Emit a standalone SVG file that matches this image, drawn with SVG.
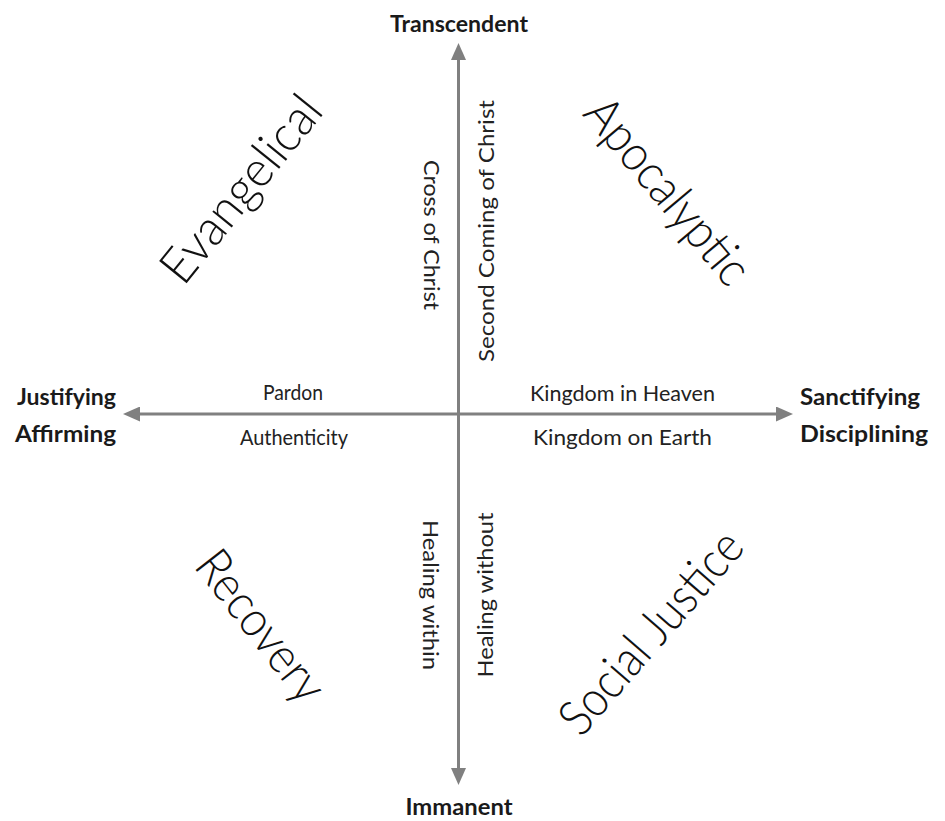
<svg xmlns="http://www.w3.org/2000/svg" width="945" height="821" viewBox="0 0 945 821">
  <defs>
    <style>
      .axis { stroke: #808080; stroke-width: 3; fill: none; }
      .pole { font-family: Lato, "Open Sans", sans-serif; font-weight: 700; font-size: 23px; fill: #1a1a1a; }
      .lbl { font-family: Lato, "Open Sans", sans-serif; font-weight: 400; font-size: 22px; fill: #222; }
      .quad { font-family: Lato, "Open Sans", sans-serif; font-weight: 300; font-size: 50px; fill: #111; }
    </style>
    <marker id="arrow" markerUnits="userSpaceOnUse" viewBox="0 0 17 15" markerWidth="17" markerHeight="15" refX="2" refY="7.5" orient="auto">
      <path d="M0,0 L17,7.5 L0,15 Z" fill="#808080"/>
    </marker>
  </defs>
  <rect width="945" height="821" fill="#ffffff"/>

  <g id="connectors">
    <line class="axis" x1="458.5" y1="414" x2="458.5" y2="58" marker-end="url(#arrow)"/>
    <line class="axis" x1="458.5" y1="414" x2="458.5" y2="770" marker-end="url(#arrow)"/>
    <line class="axis" x1="458.5" y1="414" x2="138" y2="414" marker-end="url(#arrow)"/>
    <line class="axis" x1="458.5" y1="414" x2="778" y2="414" marker-end="url(#arrow)"/>
  </g>

  <g id="transcendent">
    <text class="pole" x="459" y="32" text-anchor="middle" textLength="138" lengthAdjust="spacingAndGlyphs">Transcendent</text>
  </g>
  <g id="immanent">
    <text class="pole" x="459" y="815" text-anchor="middle" textLength="107" lengthAdjust="spacingAndGlyphs">Immanent</text>
  </g>
  <g id="justifying-affirming">
    <text class="pole" x="116" y="405" text-anchor="end" textLength="99" lengthAdjust="spacingAndGlyphs">Justifying</text>
    <text class="pole" x="116" y="442" text-anchor="end" textLength="101" lengthAdjust="spacingAndGlyphs">Affirming</text>
  </g>
  <g id="sanctifying-disciplining">
    <text class="pole" x="800" y="405" textLength="120" lengthAdjust="spacingAndGlyphs">Sanctifying</text>
    <text class="pole" x="800" y="442" textLength="128" lengthAdjust="spacingAndGlyphs">Disciplining</text>
  </g>

  <g id="axis-labels">
    <text class="lbl" x="293" y="400" text-anchor="middle" textLength="60" lengthAdjust="spacingAndGlyphs">Pardon</text>
    <text class="lbl" x="294" y="445" text-anchor="middle" textLength="108" lengthAdjust="spacingAndGlyphs">Authenticity</text>
    <text class="lbl" x="622.5" y="401" text-anchor="middle" textLength="185" lengthAdjust="spacingAndGlyphs">Kingdom in Heaven</text>
    <text class="lbl" x="622.5" y="445" text-anchor="middle" textLength="179" lengthAdjust="spacingAndGlyphs">Kingdom on Earth</text>
    <text class="lbl" transform="translate(424,235) rotate(90)" x="0" y="0" text-anchor="middle" textLength="150" lengthAdjust="spacingAndGlyphs">Cross of Christ</text>
    <text class="lbl" transform="translate(494,231) rotate(-90)" x="0" y="0" text-anchor="middle" textLength="262" lengthAdjust="spacingAndGlyphs">Second Coming of Christ</text>
    <text class="lbl" transform="translate(423,595) rotate(90)" x="0" y="0" text-anchor="middle" textLength="150" lengthAdjust="spacingAndGlyphs">Healing within</text>
    <text class="lbl" transform="translate(493,595) rotate(-90)" x="0" y="0" text-anchor="middle" textLength="165" lengthAdjust="spacingAndGlyphs">Healing without</text>
  </g>

  <g id="evangelical">
    <text class="quad" transform="translate(245,192) rotate(-51)" x="0" y="12" text-anchor="middle" textLength="225" lengthAdjust="spacingAndGlyphs">Evangelical</text>
  </g>
  <g id="apocalyptic">
    <text class="quad" transform="translate(664,194) rotate(50)" x="0" y="12" text-anchor="middle" textLength="228" lengthAdjust="spacingAndGlyphs">Apocalyptic</text>
  </g>
  <g id="recovery">
    <text class="quad" transform="translate(257,629) rotate(52)" x="0" y="12" text-anchor="middle" textLength="178" lengthAdjust="spacingAndGlyphs">Recovery</text>
  </g>
  <g id="social-justice">
    <text class="quad" transform="translate(654,635) rotate(-49)" x="0" y="13" text-anchor="middle" textLength="252" lengthAdjust="spacingAndGlyphs">Social Justice</text>
  </g>
</svg>
